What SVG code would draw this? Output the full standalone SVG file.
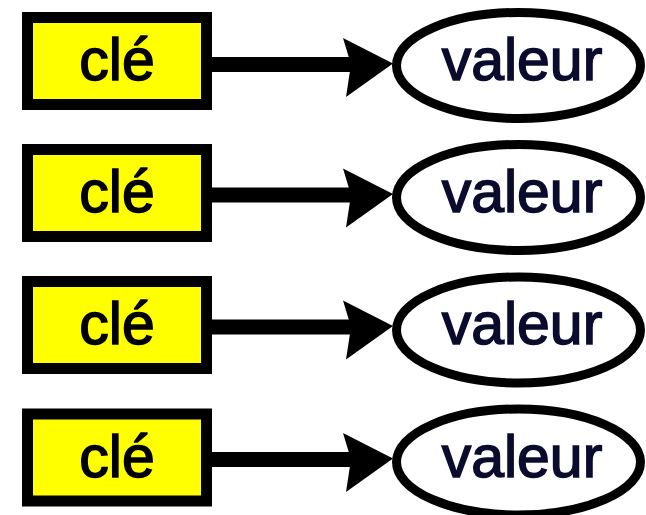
<svg xmlns="http://www.w3.org/2000/svg" width="646" height="515" viewBox="0 0 646 515">
  <style>
    .key rect { fill: #ffff00; stroke: #000; stroke-width: 11; }
    .val ellipse { fill: #fff; stroke: #000; stroke-width: 9; }
    text { font-family: "Liberation Sans", Arial, sans-serif; font-size: 59px; text-anchor: middle; stroke-width: 1.5; }
    .key text { fill: #000; stroke: #000; }
    .val text { fill: #0b0b2e; stroke: #0b0b2e; }
    .link line { stroke: #000; stroke-width: 15; }
    .link use { fill: #000; }
  </style>
  <defs>
    <!-- arrowhead, tip at the origin, pointing right -->
    <path id="head" d="M-50,-26 L0,-0.5 L-47,33 L-42,0.5 Z"/>
  </defs>

  <g id="cle1" class="key"><rect x="27.5" y="17.5" width="179" height="87"/><text x="117" y="80">clé</text></g>
  <g id="valeur1" class="val"><ellipse cx="518.5" cy="65.5" rx="122" ry="53"/><text x="522" y="80">valeur</text></g>

  <g id="cle2" class="key"><rect x="27.5" y="149.5" width="179" height="87"/><text x="117" y="212">clé</text></g>
  <g id="valeur2" class="val"><ellipse cx="518.5" cy="197.5" rx="122" ry="53"/><text x="522" y="212">valeur</text></g>

  <g id="cle3" class="key"><rect x="27.5" y="281.5" width="179" height="87"/><text x="117" y="344">clé</text></g>
  <g id="valeur3" class="val"><ellipse cx="518.5" cy="330" rx="122" ry="53"/><text x="522" y="344">valeur</text></g>

  <g id="cle4" class="key"><rect x="27.5" y="414" width="179" height="87"/><text x="117" y="477">clé</text></g>
  <g id="valeur4" class="val"><ellipse cx="518.5" cy="462" rx="122" ry="53"/><text x="522" y="477">valeur</text></g>

  <g id="connectors" class="link">
    <line x1="212" y1="64.5" x2="355" y2="64.5"/><use href="#head" x="393" y="64"/>
    <line x1="212" y1="195" x2="355" y2="195"/><use href="#head" x="393" y="194.5"/>
    <line x1="212" y1="327" x2="355" y2="327"/><use href="#head" x="393" y="326.5"/>
    <line x1="212" y1="459.5" x2="355" y2="459.5"/><use href="#head" x="393" y="459"/>
  </g>
</svg>
